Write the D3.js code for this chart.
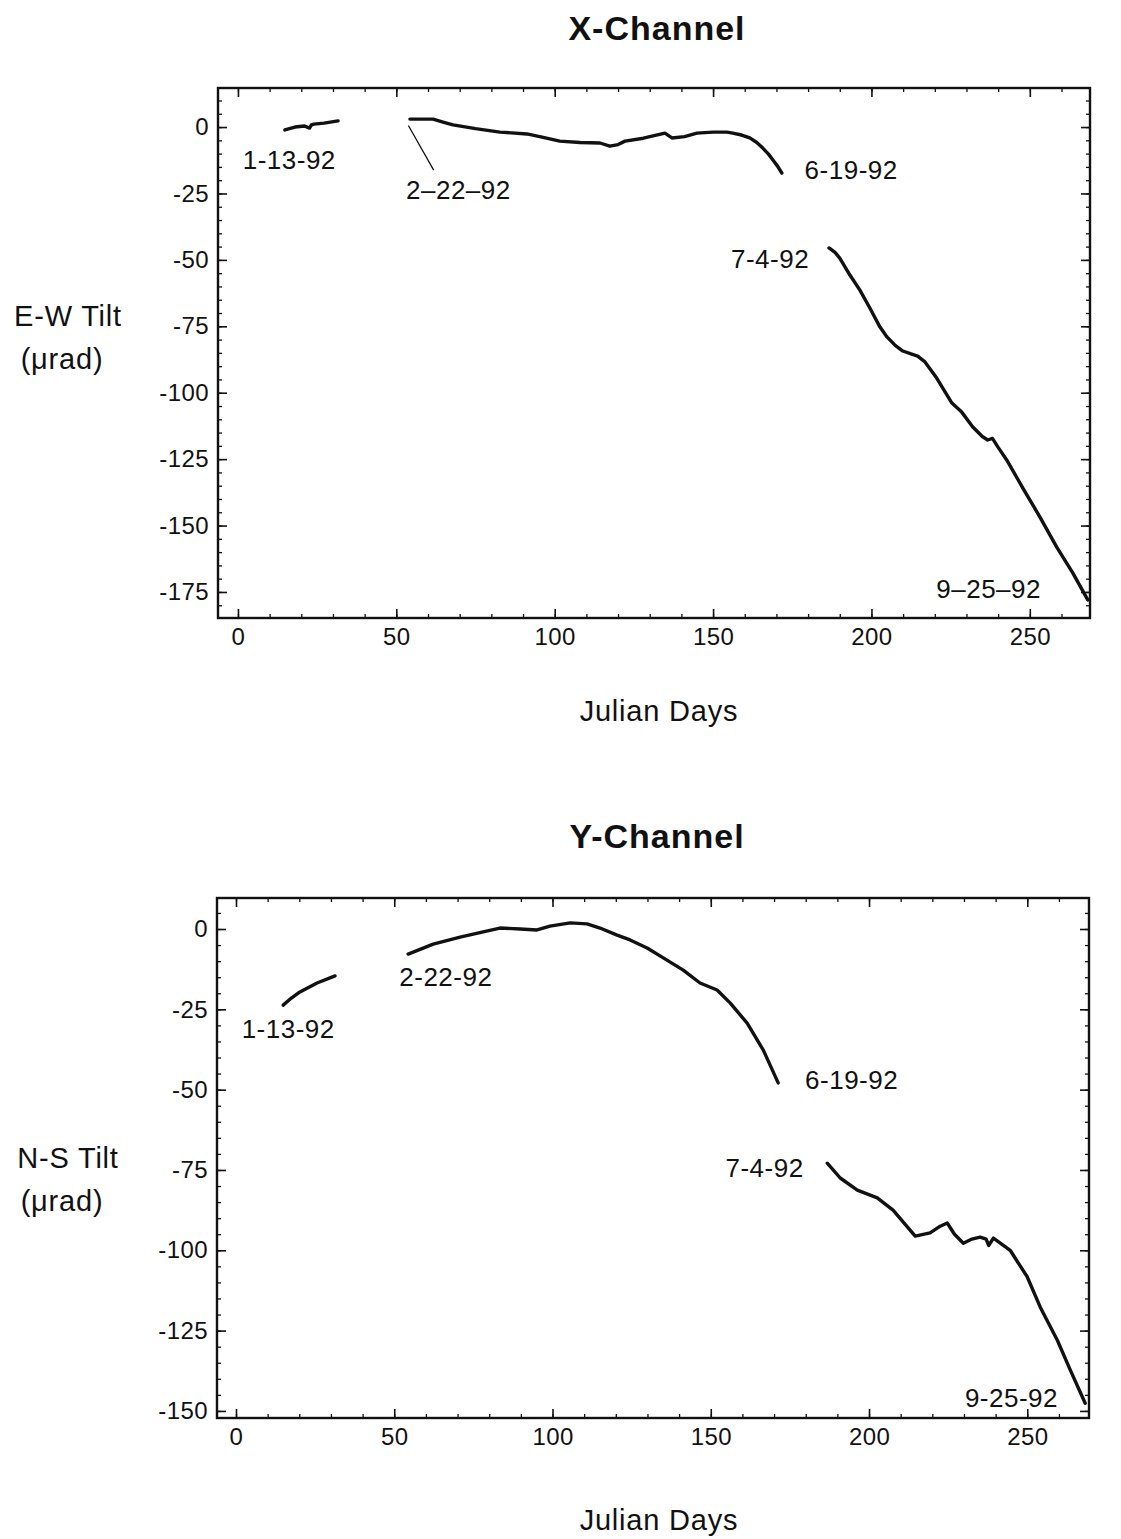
<!DOCTYPE html>
<html>
<head>
<meta charset="utf-8">
<script src="https://cdn.jsdelivr.net/npm/d3@7"></script>
<style>
  html, body { margin: 0; padding: 0; background: #fff; }
  svg { display: block; }
  text { font-family: "Liberation Sans", Arial, Helvetica, sans-serif; fill: #111; }
</style>
</head>
<body>
<svg id="chart" width="1121" height="1539"></svg>
<script>
// ---- tick values ----
const dayTicks = [0, 50, 100, 150, 200, 250];
const ewTicks = [0, -25, -50, -75, -100, -125, -150, -175];
const nsTicks = [0, -25, -50, -75, -100, -125, -150];

// ---- X-channel (E-W tilt, µrad) by Julian day ----
const ewJan = [[14.8, -1.1], [18, 0], [21, 0.4], [22.6, -0.4], [23.2, 0.8], [24, 1.1], [27.2, 1.5], [31.6, 2.3]];
const ewFebJun = [
  [54.3, 3.0], [58, 3.0], [61.6, 3.0], [65, 1.8], [67.9, 0.8], [75, -0.6], [82.7, -1.9], [91.2, -2.6],
  [96, -3.8], [101.6, -5.3], [108, -5.8], [114.3, -6.0], [117.4, -7.2], [120, -6.6], [122.2, -5.3],
  [128, -4.2], [134.8, -2.3], [137.0, -4.1], [141, -3.6], [144.9, -2.3], [150, -1.9], [154.4, -1.9],
  [156.2, -2.3], [159, -3.0], [161.6, -4.1], [163.8, -5.8], [165.7, -7.9], [167.5, -10.2],
  [168.9, -12.4], [170.4, -14.8], [171.7, -17.3]
];
const ewJulSep = [
  [186.6, -45.5], [188.5, -47.2], [190, -49.3], [193.2, -55.7], [196.3, -61.3], [199.5, -68.1],
  [202.7, -75.3], [204.9, -79], [207.5, -82.2], [209.9, -84.3], [212.5, -85.4], [214.6, -86.2],
  [216.9, -88.4], [220.6, -94.5], [225.4, -103.9], [228.5, -107.3], [232, -112.9], [235, -116.5],
  [236.7, -117.8], [238.2, -117.2], [239.9, -120.4], [242.7, -125.3], [247.8, -135.9],
  [253.2, -146.8], [258.5, -158.1], [263.6, -167.9], [268.3, -178]
];

// ---- Y-channel (N-S tilt, µrad) by Julian day ----
const nsJan = [[14.9, -23.7], [17.5, -21.5], [20.2, -19.6], [25.6, -16.8], [31.3, -14.6]];
const nsFebJun = [
  [54.4, -7.8], [62.3, -4.7], [70.8, -2.5], [78.1, -0.9], [83.4, 0.3], [89.8, 0], [95.1, -0.3],
  [99.2, 0.9], [105.6, 1.9], [110.9, 1.6], [115, 0.3], [120.4, -1.9], [124.5, -3.4], [129.9, -5.9],
  [135, -9.0], [141.3, -12.8], [146.6, -16.8], [152, -19.0], [156.1, -23.0], [161.5, -29.3],
  [166.6, -37.7], [171.3, -47.9]
];
const nsJulSep = [
  [186.8, -72.9], [190.9, -77.5], [196.3, -81.3], [202.6, -83.7], [207.6, -87.5], [211.5, -92],
  [214.6, -95.6], [219.3, -94.6], [222.5, -92.5], [224.7, -91.5], [227, -95], [229.8, -97.8],
  [232.5, -96.5], [235.1, -95.9], [237, -96.5], [237.8, -98.5], [239.3, -96.2], [244.6, -100],
  [250, -108.3], [254.1, -117.7], [259.5, -128], [263.6, -137.3], [268.3, -147.6]
];

// ---- date annotations (anchored in data units) ----
const ewNotes = [
  { text: "1-13-92", day: 16.2, tilt: -12.4 },
  { text: "2\u201322\u201392", day: 69.6, tilt: -23.6 },
  { text: "6-19-92", day: 193.6, tilt: -16.2 },
  { text: "7-4-92", day: 168.0, tilt: -49.8 },
  { text: "9\u201325\u201392", day: 237.0, tilt: -174.0 }
];
const ewLeader = [[53.8, 0.6], [61.8, -16.2]];
const nsNotes = [
  { text: "1-13-92", day: 16.5, tilt: -31.1 },
  { text: "2-22-92", day: 66.3, tilt: -15.0 },
  { text: "6-19-92", day: 194.5, tilt: -47.0 },
  { text: "7-4-92", day: 167.0, tilt: -74.3 },
  { text: "9-25-92", day: 245.0, tilt: -146.0 }
];

const svg = d3.select("#chart");

function drawPanel(cfg) {
  const g = svg.append("g");
  const x = d3.scaleLinear().domain(cfg.xDomain).range([cfg.left, cfg.right]);
  const y = d3.scaleLinear().domain(cfg.yDomain).range([cfg.top, cfg.bottom]);

  const minorX = d3.range(0, cfg.xDomain[1], 10);
  const minorY = d3.range(Math.ceil(cfg.yDomain[1] / 5) * 5, cfg.yDomain[0], 5);

  // minor ticks on all four sides (pointing inward)
  const minorAxes = [
    [d3.axisBottom(x).tickValues(minorX), `translate(0,${cfg.bottom})`],
    [d3.axisTop(x).tickValues(minorX), `translate(0,${cfg.top})`],
    [d3.axisLeft(y).tickValues(minorY), `translate(${cfg.left},0)`],
    [d3.axisRight(y).tickValues(minorY), `translate(${cfg.right},0)`]
  ];
  minorAxes.forEach(([ax, tr]) => {
    g.append("g").attr("transform", tr)
      .call(ax.tickSize(-4).tickFormat(""))
      .call(s => s.select(".domain").remove())
      .call(s => s.selectAll("line").attr("stroke", "#111").attr("stroke-width", 1.3));
  });

  const tickFont = s => s.selectAll("text")
    .attr("font-size", 24).attr("fill", "#111")
    .style("font-family", "'Liberation Sans', Arial, sans-serif")
    .style("letter-spacing", "0.4px");

  // major ticks with labels on bottom and left
  g.append("g").attr("transform", `translate(0,${cfg.bottom})`)
    .call(d3.axisBottom(x).tickValues(dayTicks).tickSize(-9).tickPadding(10).tickFormat(d3.format("d")))
    .call(s => s.select(".domain").remove())
    .call(s => s.selectAll("line").attr("stroke", "#111").attr("stroke-width", 1.6))
    .call(tickFont);
  g.append("g").attr("transform", `translate(${cfg.left},0)`)
    .call(d3.axisLeft(y).tickValues(cfg.yTicks).tickSize(-9).tickPadding(9).tickFormat(d3.format("d")))
    .call(s => s.select(".domain").remove())
    .call(s => s.selectAll("line").attr("stroke", "#111").attr("stroke-width", 1.6))
    .call(tickFont)
    .call(s => s.selectAll("text").text(d => d === 0 ? "0" : "-" + Math.abs(d)));
  // mirrored major ticks on top and right
  g.append("g").attr("transform", `translate(0,${cfg.top})`)
    .call(d3.axisTop(x).tickValues(dayTicks).tickSize(-9).tickFormat(""))
    .call(s => s.select(".domain").remove())
    .call(s => s.selectAll("line").attr("stroke", "#111").attr("stroke-width", 1.6));
  g.append("g").attr("transform", `translate(${cfg.right},0)`)
    .call(d3.axisRight(y).tickValues(cfg.yTicks).tickSize(-9).tickFormat(""))
    .call(s => s.select(".domain").remove())
    .call(s => s.selectAll("line").attr("stroke", "#111").attr("stroke-width", 1.6));

  // frame
  g.append("rect")
    .attr("x", cfg.left).attr("y", cfg.top)
    .attr("width", cfg.right - cfg.left).attr("height", cfg.bottom - cfg.top)
    .attr("fill", "none").attr("stroke", "#111").attr("stroke-width", 2.4);

  // tilt records
  const line = d3.line().x(d => x(d[0])).y(d => y(d[1])).curve(d3.curveLinear);
  cfg.segments.forEach(seg => {
    g.append("path").datum(seg).attr("d", line)
      .attr("fill", "none").attr("stroke", "#111")
      .attr("stroke-width", 3.4).attr("stroke-linejoin", "round").attr("stroke-linecap", "round");
  });

  if (cfg.leader) {
    g.append("path").datum(cfg.leader).attr("d", line)
      .attr("fill", "none").attr("stroke", "#111").attr("stroke-width", 1.3);
  }

  // date annotations
  g.selectAll("text.note").data(cfg.notes).join("text")
    .attr("class", "note")
    .attr("x", d => x(d.day)).attr("y", d => y(d.tilt))
    .attr("text-anchor", "middle").attr("dominant-baseline", "central")
    .attr("font-size", 26).style("letter-spacing", "0.5px")
    .text(d => d.text);

  // titles
  g.append("text").attr("x", cfg.titleX).attr("y", cfg.titleY)
    .attr("text-anchor", "middle").attr("font-size", 34).attr("font-weight", "bold")
    .style("letter-spacing", "1px")
    .text(cfg.title);
  g.append("text").attr("x", cfg.titleX + 2).attr("y", cfg.xLabelY)
    .attr("text-anchor", "middle").attr("font-size", 29).style("letter-spacing", "0.8px")
    .text("Julian Days");
  g.append("text").attr("x", 68).attr("y", cfg.yLabelY)
    .attr("text-anchor", "middle").attr("font-size", 29).style("letter-spacing", "0.8px")
    .text(cfg.yLabel);
  g.append("text").attr("x", 62).attr("y", cfg.yLabelY + 43)
    .attr("text-anchor", "middle").attr("font-size", 29).style("letter-spacing", "0.8px")
    .text("(\u03BCrad)");
}

drawPanel({
  left: 218, right: 1090, top: 88, bottom: 618,
  xDomain: [-6.3, 269.0], yDomain: [14.7, -184.8],
  yTicks: ewTicks,
  segments: [ewJan, ewFebJun, ewJulSep],
  notes: ewNotes, leader: ewLeader,
  title: "X-Channel", titleX: 657, titleY: 40,
  xLabelY: 721, yLabel: "E-W Tilt", yLabelY: 326
});

drawPanel({
  left: 217, right: 1089, top: 898, bottom: 1418,
  xDomain: [-6.0, 269.5], yDomain: [9.65, -152.2],
  yTicks: nsTicks,
  segments: [nsJan, nsFebJun, nsJulSep],
  notes: nsNotes, leader: null,
  title: "Y-Channel", titleX: 657, titleY: 848,
  xLabelY: 1530, yLabel: "N-S Tilt", yLabelY: 1168
});
</script>
</body>
</html>
